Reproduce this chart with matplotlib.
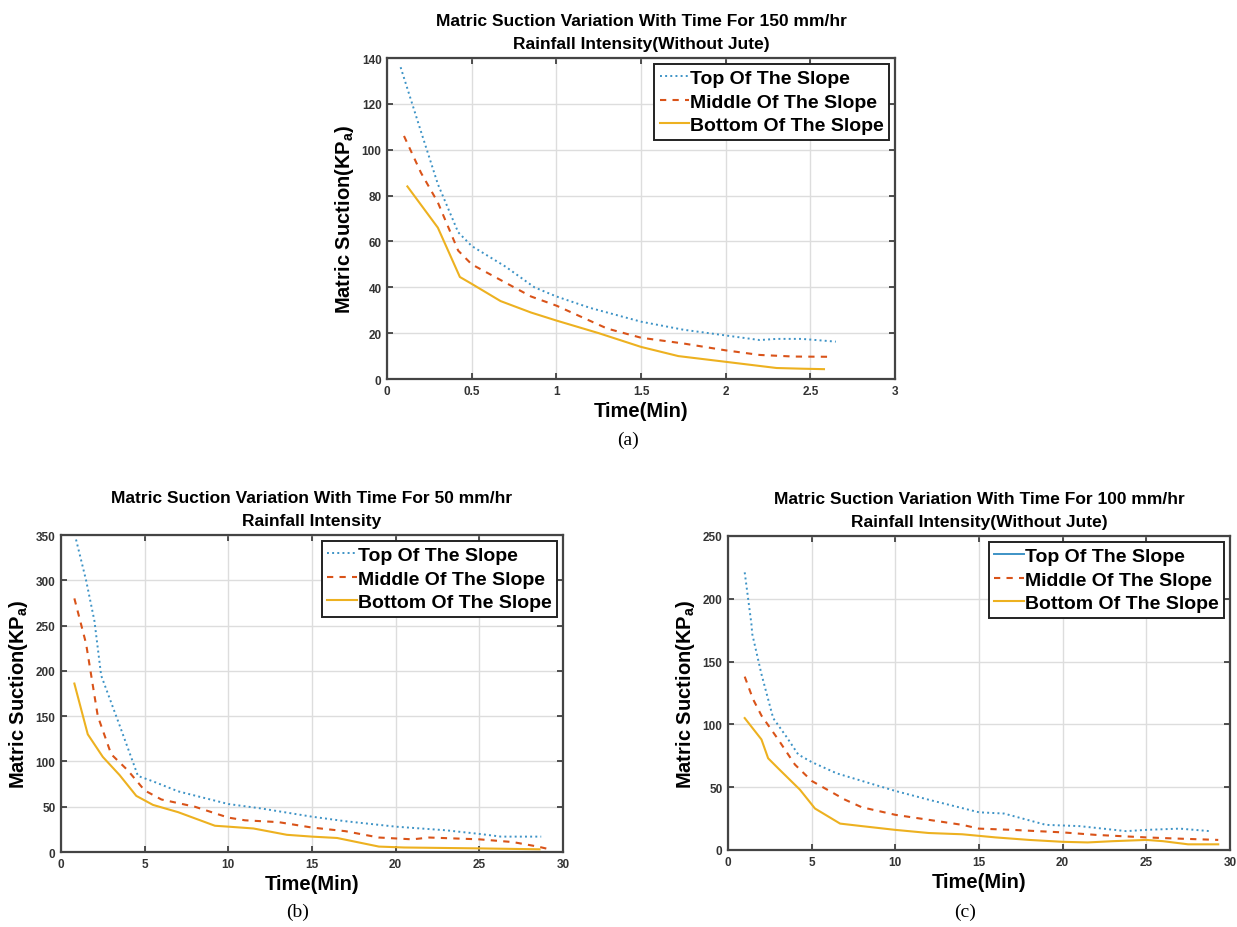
import matplotlib
matplotlib.use("Agg")
import matplotlib.pyplot as plt
from matplotlib.lines import Line2D

plt.rcParams["font.family"] = ["Liberation Sans", "DejaVu Sans"]
plt.rcParams["mathtext.default"] = "regular"

# ---- (a) 150 mm/hr ----
a_top_t = [0.08, 0.2, 0.3, 0.42, 0.5, 0.7, 0.87, 1.0, 1.2, 1.5, 1.75, 2.0, 2.2, 2.3, 2.45, 2.65]
a_top_s = [136, 108, 85, 64, 58, 49, 40, 36, 31, 25, 21.5, 19, 17, 17.5, 17.5, 16.3]
a_mid_t = [0.1, 0.2, 0.3, 0.42, 0.5, 0.7, 0.85, 1.0, 1.3, 1.5, 1.75, 2.0, 2.2, 2.4, 2.6]
a_mid_s = [106, 90, 77, 56, 50, 42, 36, 32, 22, 18, 15.5, 12.5, 10.5, 9.8, 9.7]
a_bot_t = [0.12, 0.3, 0.43, 0.5, 0.67, 0.85, 1.0, 1.25, 1.5, 1.72, 2.0, 2.3, 2.45, 2.58]
a_bot_s = [84, 66, 44.5, 41.5, 34, 29, 25.5, 20, 14, 10, 7.5, 4.8, 4.5, 4.3]

# ---- (b) 50 mm/hr ----
b_top_t = [0.9, 1.5, 2.0, 2.4, 3.5, 4.6, 5.5, 7, 8.5, 10, 12, 14, 15, 17, 20, 23, 25, 26.3, 28.7]
b_top_s = [345, 300, 255, 195, 140, 84, 78, 67, 60, 53, 48, 42, 39, 34, 28, 24, 20, 17, 17]
b_mid_t = [0.8, 1.5, 2.2, 3.0, 4.0, 5.0, 6.0, 8, 10, 11, 13, 15, 17, 19, 21, 22, 25, 27, 28.5, 29.2]
b_mid_s = [280, 230, 150, 108, 90, 68, 58, 50, 38, 35, 33, 27, 23, 16, 14, 16, 14, 11, 6, 3]
b_bot_t = [0.8, 1.6, 2.5, 3.5, 4.5, 5.5, 7, 9.2, 10, 11.5, 13.5, 15, 16.5, 19, 20.5, 25, 28.6]
b_bot_s = [186, 130, 105, 85, 62, 52, 44, 29, 28, 26, 19, 17, 15.5, 6, 5, 4, 3]

# ---- (c) 100 mm/hr ----
c_top_t = [1.0, 1.4, 1.45, 2.0, 2.7, 3.5, 4.2, 5, 6.5, 8, 10, 12, 15, 16.5, 19, 21, 23.8, 25, 27, 28.8]
c_top_s = [221, 180, 172, 140, 105, 90, 76, 70, 61, 55, 47, 40, 30, 29, 20, 19, 15, 16, 17, 15]
c_mid_t = [1.0, 1.5, 2, 3, 4, 5, 7, 8, 10, 12, 14, 15, 17, 20, 22, 25, 27, 29.3]
c_mid_s = [138, 120, 107, 88, 68, 55, 40, 34, 28, 24, 20, 17, 16, 14, 12, 10, 9, 8]
c_bot_t = [1.0, 2, 2.4, 3, 4.3, 5.2, 6.7, 8, 10, 12, 14, 16, 18, 20, 21.5, 23, 25, 26, 27.5, 29.3]
c_bot_s = [105, 88, 73, 65, 48, 33, 21, 19, 16, 13.5, 12.5, 10, 8, 6.5, 6, 7, 8, 7, 4.5, 4.5]

labels = ["Top Of The Slope", "Middle Of The Slope", "Bottom Of The Slope"]
BLUE, RED, YEL = "#3d93c6", "#d95319", "#edb120"


def draw(ax, series, xlim, ylim, yticks, title, solid_top_legend=False):
    (tt, ts), (mt, ms), (bt, bs) = series
    ax.plot(tt, ts, color=BLUE, linestyle=":", linewidth=1.4)
    ax.plot(mt, ms, color=RED, linestyle="--", linewidth=1.5, dashes=(3, 3))
    ax.plot(bt, bs, color=YEL, linestyle="-", linewidth=1.5)
    ax.set_xlim(*xlim)
    ax.set_ylim(*ylim)
    ax.set_yticks(yticks)
    ax.grid(True, color="#dddddd", linewidth=1.0)
    ax.set_axisbelow(True)
    ax.tick_params(direction="in", top=True, right=True, length=4, width=1.2,
                   labelsize=8.5, labelcolor="#333333", color="#333333", pad=4)
    for lab in ax.get_xticklabels() + ax.get_yticklabels():
        lab.set_fontweight("bold")
    for sp in ax.spines.values():
        sp.set_linewidth(1.6)
        sp.set_color("#444444")
    ax.set_xlabel("Time(Min)", fontsize=14.5, fontweight="bold", labelpad=3)
    ax.set_ylabel("Matric Suction(KP$_{a}$)", fontsize=14.5, fontweight="bold", labelpad=4)
    ax.set_title(title, fontsize=12.5, fontweight="bold", pad=7, linespacing=1.65)
    handles = [
        Line2D([], [], color=BLUE, linestyle="-" if solid_top_legend else ":", linewidth=1.4),
        Line2D([], [], color=RED, linestyle="--", linewidth=1.5, dashes=(3, 3)),
        Line2D([], [], color=YEL, linestyle="-", linewidth=1.5),
    ]
    leg = ax.legend(handles, labels, loc="upper right", fancybox=False, framealpha=1,
                    edgecolor="#222222", handlelength=1.5, handletextpad=0.05,
                    borderpad=0.3, labelspacing=0.3, borderaxespad=0.3,
                    prop={"weight": "bold", "size": 14})
    leg.get_frame().set_linewidth(1.4)


fig = plt.figure(figsize=(12.37, 9.28), dpi=100)

ax_a = fig.add_axes([0.3129, 0.5905, 0.4107, 0.3459])
draw(ax_a, [(a_top_t, a_top_s), (a_mid_t, a_mid_s), (a_bot_t, a_bot_s)],
     (0, 3), (0, 140), range(0, 141, 20),
     "Matric Suction Variation With Time For 150 mm/hr\nRainfall Intensity(Without Jute)")
ax_a.set_xticks([0, 0.5, 1, 1.5, 2, 2.5, 3])
ax_a.set_xticklabels(["0", "0.5", "1", "1.5", "2", "2.5", "3"], fontweight="bold")

ax_b = fig.add_axes([0.0493, 0.0808, 0.4058, 0.3416])
draw(ax_b, [(b_top_t, b_top_s), (b_mid_t, b_mid_s), (b_bot_t, b_bot_s)],
     (0, 30), (0, 350), range(0, 351, 50),
     "Matric Suction Variation With Time For 50 mm/hr\nRainfall Intensity")

ax_c = fig.add_axes([0.5885, 0.083, 0.4058, 0.3384])
draw(ax_c, [(c_top_t, c_top_s), (c_mid_t, c_mid_s), (c_bot_t, c_bot_s)],
     (0, 30), (0, 250), range(0, 251, 50),
     "Matric Suction Variation With Time For 100 mm/hr\nRainfall Intensity(Without Jute)",
     solid_top_legend=True)

for x, y, s in [(628 / 1237, 1 - 440 / 928, "(a)"),
                (298 / 1237, 1 - 912 / 928, "(b)"),
                (965 / 1237, 1 - 912 / 928, "(c)")]:
    fig.text(x, y, s, ha="center", va="center", fontsize=14,
             family=["Liberation Serif", "DejaVu Serif"])

fig.savefig("out.png", dpi=100)
